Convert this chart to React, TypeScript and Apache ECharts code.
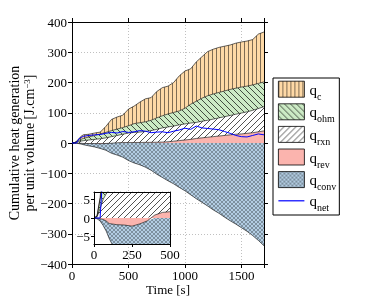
import React, { useEffect, useRef } from 'react';
import * as echarts from 'echarts';

const time = [0, 20, 40, 60, 80, 100, 150, 200, 250, 300, 350, 400, 450, 500, 550, 600, 650, 700, 750, 800, 850, 900, 950, 1000, 1050, 1100, 1150, 1200, 1250, 1300, 1350, 1400, 1450, 1500, 1550, 1600, 1650, 1700];
const qRev = [0, 0, -0.2, -0.4, -0.8, -1.5, -1.8, -1.9, -2.2, -1.6, -0.8, 0.8, 1.5, 1.7, 1.7, 1.8, 2, 2.2, 2.5, 3, 4, 6, 8, 10, 12, 15, 17, 19, 21, 23, 25, 27, 29, 30, 32, 34, 37, 40];
const qRxn = [0, 0.3, 2.5, 5, 6.5, 7.5, 10, 12, 14, 17, 21, 24.2, 27.5, 31.3, 33.3, 34.2, 36, 38.8, 42.5, 47, 49, 50, 52, 53, 54, 53, 55, 56, 58, 60, 62, 64, 66, 69, 71, 74, 77, 80];
const qOhm = [0, 0.2, 2.5, 4, 5.5, 7.5, 10, 13, 16, 18, 20, 21, 22, 24, 29, 31, 32, 34, 38, 40, 43, 45, 46, 52, 62, 70, 76, 81, 83, 84, 85, 86, 86, 86, 85, 84, 83, 82];
const qC = [0, 0.1, 0.5, 5, 10, 12, 9, 8, 6, 20, 37, 40, 41, 55, 58, 68, 76, 75, 87, 93, 92, 99, 116, 123, 117, 130, 137, 146, 148, 149, 148, 147, 149, 149, 149, 150, 163, 165];
const qConv = [0, -0.2, -0.6, -1.6, -2.7, -4, -7.7, -11.1, -15.8, -22.4, -33.2, -40, -47, -58, -66, -72, -80, -90, -103, -114, -125, -135, -147, -158, -171, -184, -196, -208, -221, -232, -245, -257, -268, -280, -292, -306, -322, -340];
const qNet = [0, 0, 0, 13, 18, 22, 25, 27, 28, 32, 35, 33, 38, 35, 37, 41, 39, 34, 36, 37, 34, 39, 43, 49, 45, 56, 50, 48, 46, 44, 38, 32, 25, 21, 20, 25, 30, 27];

const seriesNames = ['qc', 'qohm', 'qrxn', 'qrev', 'qconv', 'qnet'];
const mainXTicks = [0, 500, 1000, 1500];
const insetYTicks = [-5, 0, 5];

const FONT = "'Liberation Serif', 'Times New Roman', Times, serif";

function tile(size: number, bg: string, draw: (ctx: CanvasRenderingContext2D, s: number) => void) {
  const c = document.createElement('canvas');
  c.width = size;
  c.height = size;
  const ctx = c.getContext('2d') as CanvasRenderingContext2D;
  ctx.fillStyle = bg;
  ctx.fillRect(0, 0, size, size);
  ctx.strokeStyle = 'rgba(0,0,0,0.85)';
  ctx.lineWidth = 0.8;
  draw(ctx, size);
  return { image: c, repeat: 'repeat', imageWidth: size, imageHeight: size } as any;
}

const back = (ctx: CanvasRenderingContext2D, s: number) => {
  ctx.beginPath();
  for (const o of [-s, 0, s]) {
    ctx.moveTo(o, 0);
    ctx.lineTo(o + s, s);
  }
  ctx.stroke();
};
const fwd = (ctx: CanvasRenderingContext2D, s: number) => {
  ctx.beginPath();
  for (const k of [0, 1, 2]) {
    ctx.moveTo(k * s, 0);
    ctx.lineTo(k * s - s, s);
  }
  ctx.stroke();
};

export default function App() {
  const ref = useRef<HTMLDivElement>(null);
  useEffect(() => {
    document.body.style.margin = '0';
    if (!ref.current) return;
    const chart = echarts.init(ref.current, undefined, { renderer: 'svg' });

    const patC = tile(4, '#fed9a6', (ctx, s) => {
      ctx.fillStyle = 'rgba(0,0,0,0.5)';
      ctx.fillRect(0, 0, 1, s);
    });
    const patOhm = tile(6, '#ccebc5', back);
    const patRxn = tile(6, '#ffffff', fwd);
    const patRev = '#fbb4ae';
    const patConv = tile(4, '#b3cde3', (ctx, s) => {
      ctx.lineWidth = 0.5;
      ctx.strokeStyle = 'rgba(0,0,0,0.6)';
      back(ctx, s);
      fwd(ctx, s);
    });

    const areaDefs = [
      { name: 'qrev', vals: qRev, fill: patRev },
      { name: 'qrxn', vals: qRxn, fill: patRxn },
      { name: 'qohm', vals: qOhm, fill: patOhm },
      { name: 'qc', vals: qC, fill: patC },
      { name: 'qconv', vals: qConv, fill: patConv },
    ];

    const series: any[] = [];
    [0, 1].forEach((g) => {
      areaDefs.forEach((d) => {
        series.push({
          name: d.name,
          type: 'line',
          xAxisIndex: g === 0 ? 0 : 2,
          yAxisIndex: g === 0 ? 0 : 2,
          stack: g === 0 ? 'main' : 'inset',
          data: time.map((t, i) => [d.vals[i], t]),
          encode: { x: 1, y: 0 },
          symbol: 'none',
          showSymbol: false,
          silent: true,
          lineStyle: { color: '#000', width: 0.6 },
          areaStyle: { color: d.fill, opacity: 1 },
          z: g === 0 ? 2 : 6,
        });
      });
      series.push({
        name: 'qnet',
        type: 'line',
        xAxisIndex: g === 0 ? 0 : 2,
        yAxisIndex: g === 0 ? 0 : 2,
        data: time.map((t, i) => [t, qNet[i]]),
        symbol: 'none',
        showSymbol: false,
        silent: true,
        lineStyle: { color: '#0000ff', width: 1 },
        z: g === 0 ? 2 : 6,
      });
    });

    const minus = (v: number) => (v < 0 ? '\u2212' + Math.abs(v) : String(v));
    const lineBlack = { color: '#000', width: 1 };
    const labelBase = { color: '#000', fontFamily: FONT, fontSize: 13 };
    const grid = { type: [1, 2], color: '#b0b0b0', width: 0.8 };

    const legendFill: Record<string, any> = { qc: patC, qohm: patOhm, qrxn: patRxn, qrev: patRev, qconv: patConv };

    const option: any = {
      animation: false,
      textStyle: { fontFamily: FONT },
      grid: [
        { left: 72, top: 22, width: 192, height: 242, outerBoundsMode: 'none', containLabel: false },
        { left: 94, top: 192, width: 76, height: 52, show: true, backgroundColor: '#fff', borderWidth: 0, z: 5, outerBoundsMode: 'none', containLabel: false },
      ],
      xAxis: [
        {
          type: 'value', gridIndex: 0, min: 0, max: 1700, interval: 500, position: 'bottom', z: 0,
          axisLine: { show: true, onZero: false, lineStyle: lineBlack },
          axisTick: { show: true, inside: false, length: 4, lineStyle: lineBlack },
          axisLabel: { ...labelBase, margin: 5, formatter: (v: number) => (mainXTicks.includes(v) ? String(v) : '') },
          splitLine: { show: true, lineStyle: grid },
          name: 'Time [s]', nameLocation: 'middle', nameGap: 19, nameMoveOverlap: false,
          nameTextStyle: { ...labelBase },
        },
        {
          type: 'value', gridIndex: 0, min: 0, max: 1700, interval: 500, position: 'top', z: 3,
          axisLine: { show: true, onZero: false, lineStyle: lineBlack },
          axisTick: { show: true, inside: false, length: 4, lineStyle: lineBlack },
          axisLabel: { show: false },
          splitLine: { show: false },
        },
        {
          type: 'value', gridIndex: 1, min: 0, max: 500, interval: 250, position: 'bottom', z: 7,
          axisLine: { show: true, onZero: false, lineStyle: lineBlack },
          axisTick: { show: true, inside: false, length: 3, lineStyle: lineBlack },
          axisLabel: { ...labelBase, margin: 4 },
          splitLine: { show: false },
        },
        {
          type: 'value', gridIndex: 1, min: 0, max: 500, interval: 250, position: 'top', z: 7,
          axisLine: { show: true, onZero: false, lineStyle: lineBlack },
          axisTick: { show: false },
          axisLabel: { show: false },
          splitLine: { show: false },
        },
      ],
      yAxis: [
        {
          type: 'value', gridIndex: 0, min: -400, max: 400, interval: 100, position: 'left', z: 0,
          axisLine: { show: true, onZero: false, lineStyle: lineBlack },
          axisTick: { show: true, inside: false, length: 4, lineStyle: lineBlack },
          axisLabel: { ...labelBase, margin: 5, formatter: minus },
          splitLine: { show: true, lineStyle: grid },
          name: 'Cumulative heat generation\nper unit volume [J.cm{sup|\u22123}]',
          nameLocation: 'middle', nameGap: 35, nameRotate: 90, nameMoveOverlap: false,
          nameTextStyle: {
            ...labelBase, fontSize: 14, lineHeight: 15,
            rich: { sup: { fontSize: 9, fontFamily: FONT, color: '#000', verticalAlign: 'top', lineHeight: 10 } },
          },
        },
        {
          type: 'value', gridIndex: 0, min: -400, max: 400, interval: 100, position: 'right', z: 3,
          axisLine: { show: true, onZero: false, lineStyle: lineBlack },
          axisTick: { show: true, inside: false, length: 4, lineStyle: lineBlack },
          axisLabel: { show: false },
          splitLine: { show: false },
        },
        {
          type: 'value', gridIndex: 1, min: -7, max: 7, position: 'left', z: 7,
          axisLine: { show: true, onZero: false, lineStyle: lineBlack },
          axisTick: { show: true, inside: false, length: 3, lineStyle: lineBlack, customValues: insetYTicks },
          axisLabel: { ...labelBase, margin: 4, formatter: minus, customValues: insetYTicks },
          splitLine: { show: false },
        },
        {
          type: 'value', gridIndex: 1, min: -7, max: 7, position: 'right', z: 7,
          axisLine: { show: true, onZero: false, lineStyle: lineBlack },
          axisTick: { show: false },
          axisLabel: { show: false },
          splitLine: { show: false },
        },
      ],
      legend: {
        orient: 'vertical', left: 273, top: 78,
        itemWidth: 26, itemHeight: 16, itemGap: 2.2,
        padding: [2.8, 3, 2.2, 5],
        borderColor: '#000', borderWidth: 1, borderRadius: 0, backgroundColor: '#fff',
        selectedMode: false,
        data: seriesNames.map((n) =>
          n === 'qnet'
            ? { name: n, icon: 'path://M0,0H26V1.2H0Z', itemStyle: { color: '#0000ff', borderWidth: 0 } }
            : { name: n, icon: 'rect', itemStyle: { color: legendFill[n], borderColor: '#000', borderWidth: 0.8 } }
        ),
        formatter: (n: string) => `{q|q}{s|${n.slice(1)}}`,
        textStyle: {
          color: '#000', fontFamily: FONT, fontSize: 15,
          rich: {
            q: { fontSize: 15, lineHeight: 14, verticalAlign: 'top', fontFamily: FONT, color: '#000' },
            s: { fontSize: 10, lineHeight: 10, padding: [9, 0, 0, 0], verticalAlign: 'top', fontFamily: FONT, color: '#000' },
          },
        },
      },
      series,
    };

    chart.setOption(option);
    return () => chart.dispose();
  }, []);

  return <div ref={ref} style={{ width: 374, height: 300, position: 'fixed', left: 0, top: 0 }} />;
}
